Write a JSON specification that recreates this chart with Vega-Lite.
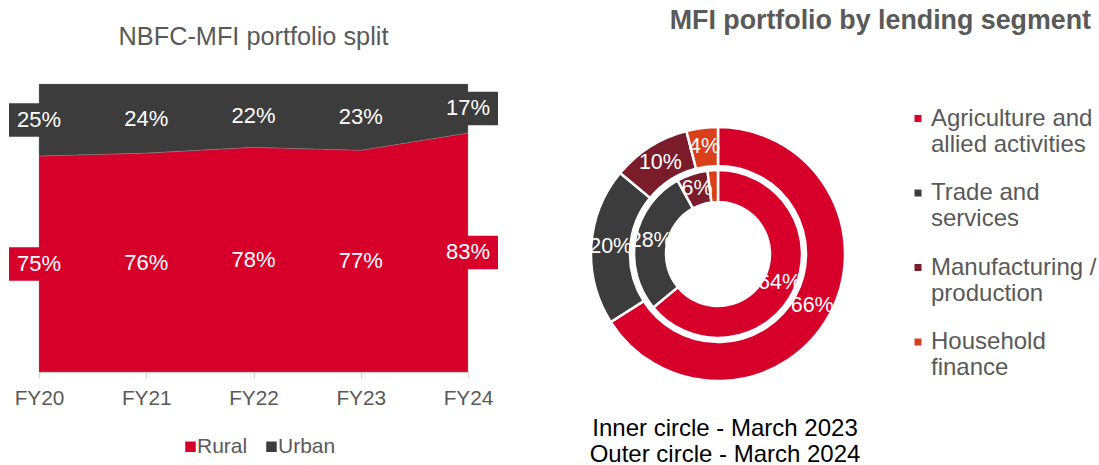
{
  "$schema": "https://vega.github.io/schema/vega-lite/v6.json",
  "padding": {"left": 9, "top": 7, "right": 0, "bottom": 0},
  "background": "white",
  "config": {"font": "Liberation Sans", "view": {"stroke": null}},
  "title": {"text": "MFI portfolio by lending segment", "anchor": "end", "frame": "bounds", "fontSize": 26.8, "fontWeight": "bold", "color": "#595959", "baseline": "alphabetic", "offset": -31, "dx": -6},
  "bounds": "flush",
  "spacing": 120,
  "resolve": {"scale": {"color": "independent"}, "legend": {"color": "independent"}},
  "hconcat": [
    {
      "width": 429,
      "height": 288,
      "title": {"text": "NBFC-MFI portfolio split", "fontSize": 25.3, "fontWeight": "normal", "color": "#595959", "baseline": "alphabetic", "offset": 13, "anchor": "middle", "frame": "group"},
      "data": {"values": [
        {"FY": "FY20", "segment": "Rural", "value": 0.75},
        {"FY": "FY21", "segment": "Rural", "value": 0.76},
        {"FY": "FY22", "segment": "Rural", "value": 0.78},
        {"FY": "FY23", "segment": "Rural", "value": 0.77},
        {"FY": "FY24", "segment": "Rural", "value": 0.83},
        {"FY": "FY20", "segment": "Urban", "value": 0.25},
        {"FY": "FY21", "segment": "Urban", "value": 0.24},
        {"FY": "FY22", "segment": "Urban", "value": 0.22},
        {"FY": "FY23", "segment": "Urban", "value": 0.23},
        {"FY": "FY24", "segment": "Urban", "value": 0.17}
      ]},
      "encoding": {
        "x": {"field": "FY", "type": "ordinal", "scale": {"type": "point", "padding": 0},
          "axis": {"title": null, "labelAngle": 0, "labelFontSize": 20.8, "labelColor": "#595959", "domainColor": "#D9D9D9", "domainWidth": 1.5, "tickColor": "#D9D9D9", "tickWidth": 1.5, "tickSize": 6, "labelPadding": 10, "grid": false}}
      },
      "resolve": {"scale": {"y": "independent"}},
      "layer": [
        {
          "mark": {"type": "area", "stroke": "#8C8C8C", "strokeWidth": 0.6, "strokeOpacity": 0.6},
          "encoding": {
            "y": {"field": "value", "type": "quantitative", "stack": "zero", "scale": {"domain": [0, 1]}, "axis": null},
            "color": {"field": "segment", "type": "nominal", "scale": {"domain": ["Rural", "Urban"], "range": ["#D6002A", "#3C3C3C"]},
              "legend": {"title": null, "orient": "none", "direction": "horizontal", "legendX": 141, "legendY": 352, "symbolType": "square", "symbolSize": 110, "symbolStrokeWidth": 0, "labelFontSize": 21, "labelColor": "#595959", "labelOffset": -4, "columnPadding": 13, "padding": 0}},
            "order": {"field": "segment"}
          }
        },
        {
          "transform": [{"filter": {"and": [{"field": "segment", "equal": "Rural"}, {"field": "FY", "oneOf": ["FY20", "FY24"]}]}}],
          "mark": {"type": "point", "shape": "M-1,-0.56H1V0.56H-1Z", "size": 3600, "filled": true, "opacity": 1, "fill": "#D6002A", "strokeWidth": 0},
          "encoding": {"y": {"field": "value", "type": "quantitative", "scale": {"domain": [0, 2]}, "axis": null}}
        },
        {
          "transform": [{"filter": {"and": [{"field": "segment", "equal": "Urban"}, {"field": "FY", "oneOf": ["FY20", "FY24"]}]}}],
          "mark": {"type": "point", "shape": "M-1,-0.56H1V0.56H-1Z", "size": 3600, "filled": true, "opacity": 1, "fill": "#3C3C3C", "strokeWidth": 0},
          "encoding": {"y": {"field": "value", "type": "quantitative", "scale": {"domain": [0, 2], "reverse": true}, "axis": null}}
        },
        {
          "transform": [{"filter": {"field": "segment", "equal": "Rural"}}],
          "mark": {"type": "text", "fill": "white", "fontSize": 22, "baseline": "middle"},
          "encoding": {
            "y": {"field": "value", "type": "quantitative", "scale": {"domain": [0, 2]}, "axis": null},
            "text": {"field": "value", "type": "quantitative", "format": ".0%"}
          }
        },
        {
          "transform": [{"filter": {"field": "segment", "equal": "Urban"}}],
          "mark": {"type": "text", "fill": "white", "fontSize": 22, "baseline": "middle"},
          "encoding": {
            "y": {"field": "value", "type": "quantitative", "scale": {"domain": [0, 2], "reverse": true}, "axis": null},
            "text": {"field": "value", "type": "quantitative", "format": ".0%"}
          }
        }
      ]
    },
    {
      "width": 260,
      "height": 340,
      "title": {"text": ["Inner circle - March 2023", "Outer circle - March 2024"], "orient": "bottom", "anchor": "middle", "frame": "group", "color": "black", "fontSize": 24, "fontWeight": "normal", "lineHeight": 26, "baseline": "top", "offset": -7, "dx": 7},
      "data": {"values": [
        {"period": "2024", "segment": "Agriculture and allied activities", "idx": 1, "value": 0.66},
        {"period": "2024", "segment": "Trade and services", "idx": 2, "value": 0.20},
        {"period": "2024", "segment": "Manufacturing / production", "idx": 3, "value": 0.10},
        {"period": "2024", "segment": "Household finance", "idx": 4, "value": 0.04},
        {"period": "2023", "segment": "Agriculture and allied activities", "idx": 1, "value": 0.64},
        {"period": "2023", "segment": "Trade and services", "idx": 2, "value": 0.28},
        {"period": "2023", "segment": "Manufacturing / production", "idx": 3, "value": 0.06},
        {"period": "2023", "segment": "Household finance", "idx": 4, "value": 0.02}
      ]},
      "encoding": {
        "theta": {"field": "value", "type": "quantitative", "stack": true, "scale": {"domain": [0, 1]}},
        "order": {"field": "idx", "type": "quantitative"}
      },
      "layer": [
        {
          "transform": [{"filter": {"field": "period", "equal": "2024"}}],
          "mark": {"type": "arc", "radius": 127, "radius2": 88, "stroke": "white", "strokeWidth": 2.5},
          "encoding": {
            "color": {"field": "segment", "type": "nominal",
              "scale": {"domain": ["Agriculture and allied activities", "Trade and services", "Manufacturing / production", "Household finance"], "range": ["#D6002A", "#3C3C3C", "#7B1C2A", "#D9401A"]},
              "legend": {"title": null, "orient": "none", "legendX": 318, "legendY": 22.5, "direction": "vertical", "symbolType": "square", "symbolSize": 49, "symbolStrokeWidth": 0, "labelFontSize": 24, "labelColor": "#595959", "labelOffset": 1, "labelLimit": 400, "rowPadding": 24.5, "padding": 0,
                "labelExpr": "datum.label == 'Agriculture and allied activities' ? ['Agriculture and', 'allied activities'] : datum.label == 'Trade and services' ? ['Trade and', 'services'] : datum.label == 'Manufacturing / production' ? ['Manufacturing /', 'production'] : ['Household', 'finance']",
                "encode": {"labels": {"enter": {"lineHeight": {"value": 27}}, "update": {"lineHeight": {"value": 27}}}}}}
          }
        },
        {
          "transform": [{"filter": {"field": "period", "equal": "2023"}}],
          "mark": {"type": "arc", "radius": 84, "radius2": 52, "stroke": "white", "strokeWidth": 2.5},
          "encoding": {"color": {"field": "segment", "type": "nominal"}}
        },
        {
          "transform": [{"filter": {"field": "period", "equal": "2024"}}],
          "mark": {"type": "text", "radius": 107.5, "fill": "white", "fontSize": 21.5, "baseline": "middle"},
          "encoding": {
            "detail": {"field": "segment"},
            "text": {"field": "value", "type": "quantitative", "format": ".0%"}
          }
        },
        {
          "transform": [{"filter": {"field": "period", "equal": "2023"}}, {"filter": "datum.value > 0.03"}],
          "mark": {"type": "text", "radius": 68, "fill": "white", "fontSize": 21.5, "baseline": "middle"},
          "encoding": {
            "detail": {"field": "segment"},
            "text": {"field": "value", "type": "quantitative", "format": ".0%"}
          }
        }
      ]
    }
  ]
}
